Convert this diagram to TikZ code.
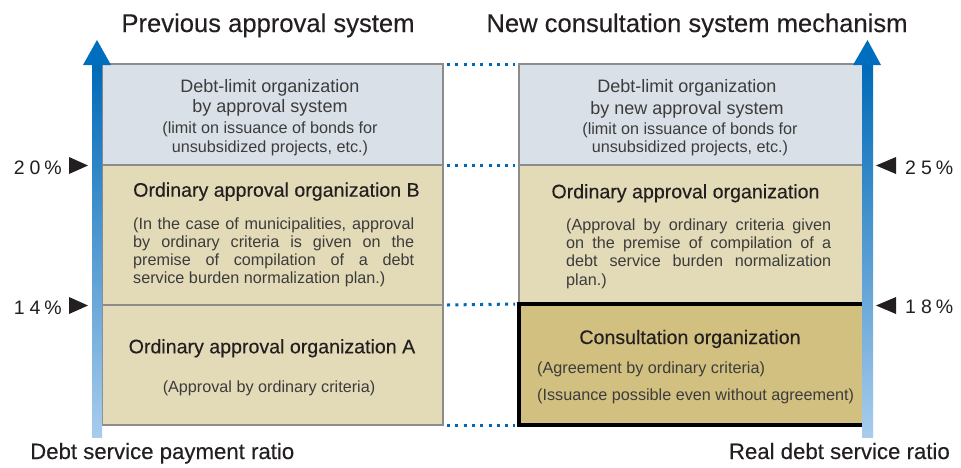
\documentclass[tikz,border=0pt]{standalone}
\usepackage{fontspec}
\setmainfont{Liberation Sans}
\newfontfamily\headfont[FakeBold=0.25]{Liberation Sans}
\definecolor{topfill}{RGB}{217,224,231}
\definecolor{midfill}{RGB}{227,218,183}
\definecolor{consfill}{RGB}{210,192,128}
\definecolor{bordergray}{RGB}{140,140,140}
\definecolor{headtext}{RGB}{35,31,32}
\definecolor{desctext}{RGB}{60,60,60}
\definecolor{dotblue}{RGB}{0,104,180}
\definecolor{axtop}{RGB}{0,106,184}
\definecolor{axbot}{RGB}{168,204,236}
\definecolor{axhead}{RGB}{0,110,190}
\begin{document}
\begin{tikzpicture}[x=1pt,y=-1pt,
  box/.style={draw=bordergray, line width=2pt, inner sep=0pt, outer sep=0pt, anchor=north west},
  ttl/.style={anchor=base, inner sep=0pt, text=headtext, font=\headfont\fontsize{25.6}{30}\selectfont},
  head/.style={inner sep=0pt, text=headtext, font=\headfont\fontsize{19.6}{23}\selectfont},
  sub/.style={anchor=base, inner sep=0pt, text=desctext, font=\fontsize{18}{21}\selectfont},
  desc/.style={inner sep=0pt, text=desctext, font=\fontsize{16.2}{19}\selectfont},
  pct/.style={inner sep=0pt, text=headtext, font=\fontsize{19.5}{23}\selectfont},
  axlabel/.style={inner sep=0pt, text=headtext, font=\headfont\fontsize{22.2}{26}\selectfont},
  dotline/.style={draw=dotblue, line width=3pt, dash pattern=on 3pt off 5.3pt},
  marker/.style={fill=headtext}
]
\useasboundingbox (0,0) rectangle (961,467);

% titles
\node[ttl] (t1) at (268,32) {Previous approval system};
\node[ttl] (t2) at (697,32) {New consultation system mechanism};

% left boxes
\node[box, fill=topfill, minimum width=341pt, minimum height=101pt] (L1) at (102,64) {};
\node[box, fill=midfill, minimum width=341pt, minimum height=140pt] (L2) at (102,165) {};
\node[box, fill=midfill, minimum width=341pt, minimum height=120pt] (L3) at (102,305) {};

% right boxes
\node[box, fill=topfill, minimum width=345pt, minimum height=101pt] (R1) at (519,64) {};
\node[box, fill=midfill, minimum width=345pt, minimum height=139pt] (R2) at (519,165) {};
\node[box, draw=black, line width=4pt, fill=consfill, minimum width=346pt, minimum height=121pt] (R3) at (519,304) {};

% dotted connectors
\draw[dotline] ([xshift=4pt]L1.north east) -- ([xshift=-4pt]R1.north west);
\draw[dotline] ([xshift=4pt]L2.north east) -- ([xshift=-4pt]R2.north west);
\draw[dotline] ([xshift=4pt]L3.north east) -- ([xshift=-4pt]R3.north west);
\draw[dotline] ([xshift=4pt]L3.south east) -- ([xshift=-4pt]R3.south west);

% axes
\shade[top color=axtop, bottom color=axbot] (92,64) rectangle (102,437);
\fill[axhead] (83,65) -- (111,65) -- (97,40) -- cycle;
\shade[top color=axtop, bottom color=axbot] (862,64) rectangle (873,437);
\fill[axhead] (853,65) -- (881,65) -- (867.5,40) -- cycle;

% left top box text
\node[sub] (l1a) at (270,92) {Debt-limit organization};
\node[sub] (l1b) at (270,112.7) {by approval system};
\node[desc, anchor=base] (l1c) at (270,133.3) {(limit on issuance of bonds for};
\node[desc, anchor=base] (l1d) at (270,152.3) {unsubsidized projects, etc.)};

% left middle box text
\node[head, anchor=base west] (l2h) at (133,196.7) {Ordinary approval organization B};
\node[desc, anchor=base west] (l2a) at (133,229.3) {\makebox[281pt][s]{(In the case of municipalities, approval}};
\node[desc, anchor=base west] (l2b) at (133,247.3) {\makebox[281pt][s]{by ordinary criteria is given on the}};
\node[desc, anchor=base west] (l2c) at (133,265.3) {\makebox[281pt][s]{premise of compilation of a debt}};
\node[desc, anchor=base west] (l2d) at (133,283.3) {service burden normalization plan.)};

% left bottom box text
\node[head, anchor=base] (l3h) at (272,353.3) {Ordinary approval organization A};
\node[desc, anchor=base] (l3a) at (269,392.3) {(Approval by ordinary criteria)};

% right top box text
\node[sub] (r1a) at (687,92.3) {Debt-limit organization};
\node[sub] (r1b) at (687,114.3) {by new approval system};
\node[desc, anchor=base] (r1c) at (690,134) {(limit on issuance of bonds for};
\node[desc, anchor=base] (r1d) at (690,152.3) {unsubsidized projects, etc.)};

% right middle box text
\node[head, anchor=base] (r2h) at (685.5,198.3) {Ordinary approval organization};
\node[desc, anchor=base west] (r2a) at (566,230) {\makebox[265pt][s]{(Approval by ordinary criteria given}};
\node[desc, anchor=base west] (r2b) at (566,248.3) {\makebox[265pt][s]{on the premise of compilation of a}};
\node[desc, anchor=base west] (r2c) at (566,266.7) {\makebox[265pt][s]{debt service burden normalization}};
\node[desc, anchor=base west] (r2d) at (566,285) {plan.)};

% consultation box text
\node[head, anchor=base] (r3h) at (690,344) {Consultation organization};
\node[desc, anchor=base west] (r3a) at (537,373.3) {(Agreement by ordinary criteria)};
\node[desc, anchor=base west] (r3b) at (537,400) {(Issuance possible even without agreement)};

% percent markers
\fill[marker] (69,157) -- (88,165.5) -- (69,174) -- cycle;
\node[pct, anchor=base east] (p20) at (62,174) {2\hspace{5pt}0\hspace{4pt}\%};
\fill[marker] (69,297) -- (88,305.5) -- (69,314) -- cycle;
\node[pct, anchor=base east] (p14) at (62,314) {1\hspace{5pt}4\hspace{4pt}\%};
\fill[marker] (896,157) -- (876,165.5) -- (896,174) -- cycle;
\node[pct, anchor=base west] (p25) at (905,174) {2\hspace{5pt}5\hspace{4pt}\%};
\fill[marker] (896,297) -- (876,305.5) -- (896,314) -- cycle;
\node[pct, anchor=base west] (p18) at (905,313) {1\hspace{5pt}8\hspace{4pt}\%};

% axis labels
\node[axlabel, anchor=base west] (axl) at (30,459) {Debt service payment ratio};
\node[axlabel, anchor=base east] (axr) at (950,459) {Real debt service ratio};
\end{tikzpicture}
\end{document}
